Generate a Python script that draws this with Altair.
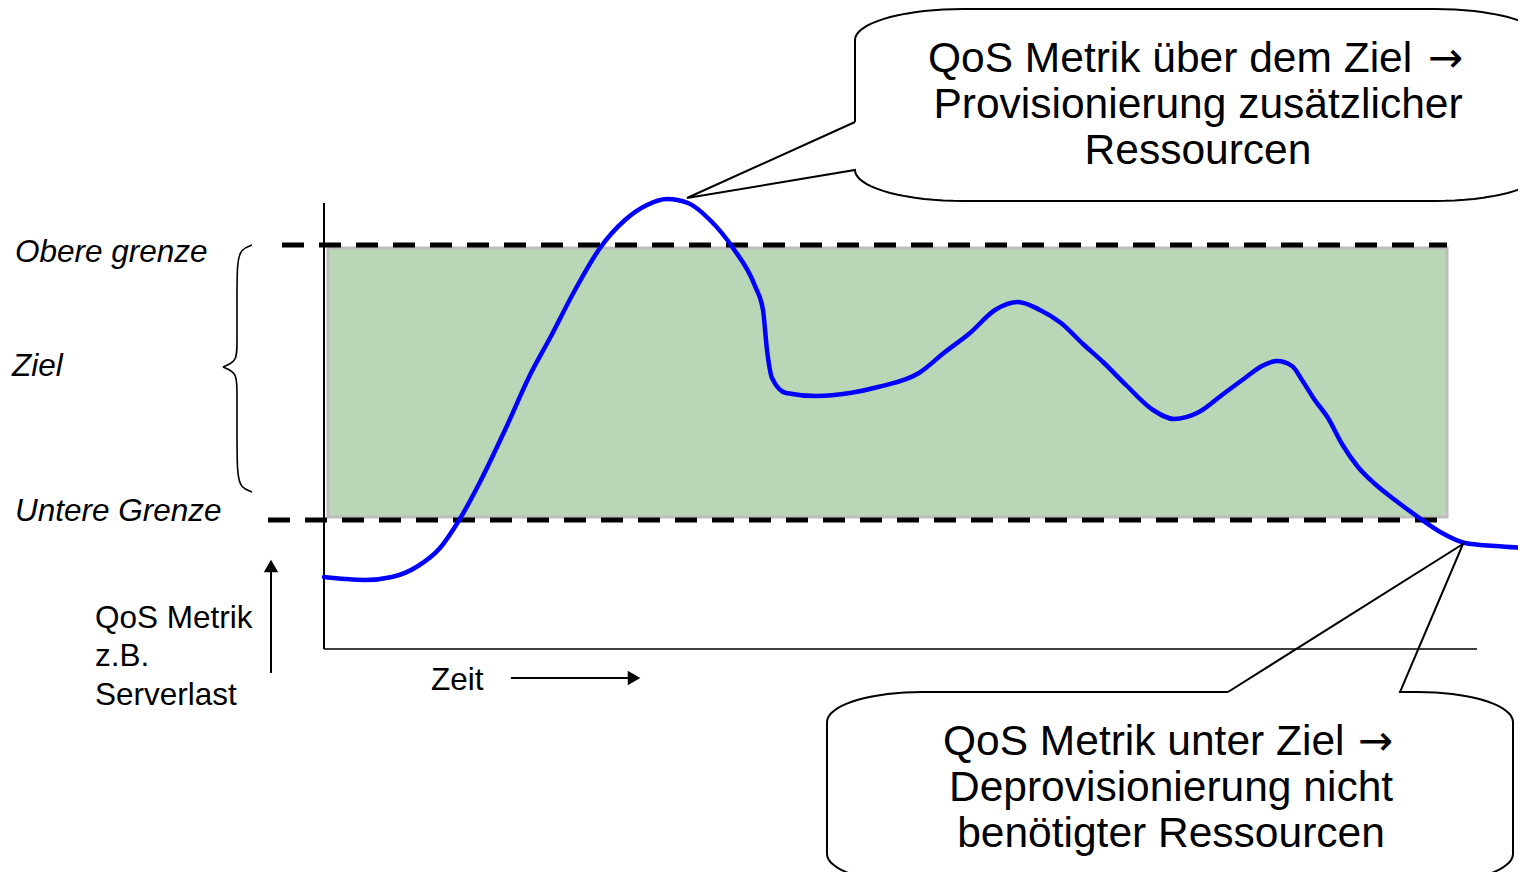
import altair as alt
import numpy as np
import pandas as pd

# ---------------------------------------------------------------
# All values (page pixels of
# the 1526x880 figure); the scales below map them 1:1 onto the page.
# ---------------------------------------------------------------
W, H = 1510, 864
X_DOMAIN = [8, 1518]
Y_DOMAIN = [872, 8]
FONT = "Liberation Sans"
ARROW_FONT = "DejaVu Sans"

# QoS metric curve (blue)
curve_x = [324, 345, 365, 392, 418, 440, 458, 480, 505, 530, 550, 575, 600, 625,
           647, 667, 688, 710, 733, 755, 763, 767, 772, 786, 816, 850, 878, 919,
           945, 970, 995, 1018, 1040, 1061, 1083, 1103, 1126, 1153, 1174, 1199,
           1222, 1245, 1262, 1277, 1292, 1302, 1314, 1328, 1342, 1358, 1375,
           1395, 1418, 1442, 1465, 1495, 1526]
curve_y = [577, 579, 580, 577, 566, 548, 522, 482, 430, 375, 338, 290, 248, 220,
           205, 199, 203, 220, 248, 286, 310, 350, 378, 393, 396, 393, 387, 373,
           352, 333, 310, 302, 310, 323, 344, 362, 385, 410, 419, 412,
           395, 378, 366, 361, 366, 380, 399, 418, 444, 467, 484,
           500, 517, 533, 543, 546, 548]

# target zone (green band)
band_x = [328, 1447]
band_y = [248, 517]

# dashed limits: upper / lower
limit_y = [245, 520]
limit_x_start = [282, 268]
limit_x_end = [1447, 1437]

# hand-drawn axes
yaxis_x = [324]
yaxis_y = [203, 649]
xaxis_y = [649]
xaxis_x = [324, 1477]

# small direction arrows (y: vertical, x: horizontal)
arrow_y_x = [271]
arrow_y_span = [673, 572]
arrow_x_y = [678]
arrow_x_span = [511, 628]

# curly brace (upper half, lower half)
brace_up_x = [252, 241, 237, 237, 237, 237, 223]
brace_up_y = [245, 249, 262, 300, 345, 361, 367]
brace_lo_x = [223, 237, 237, 237, 237, 241, 252]
brace_lo_y = [367, 373, 389, 430, 475, 488, 492]

# callout bubbles: left, right, top, bottom, corner rx, corner ry
top_bubble_box = [855, 1543, 9, 201, 108, 31]
top_bubble_tip = [687, 198]
top_bubble_joins = [122, 170]          # y of the pointer joins on the left edge
bot_bubble_box = [827, 1513, 692, 884, 95, 30]
bot_bubble_tip = [1463, 544]
bot_bubble_joins = [1228, 1400]        # x of the pointer joins on the top edge

# texts
italic_labels = ["Obere grenze", "Ziel", "Untere Grenze"]
italic_x = [15, 12, 15]
italic_y = [262, 376, 521]
plain_labels = ["QoS Metrik", "z.B.", "Serverlast", "Zeit"]
plain_x = [95, 95, 95, 431]
plain_y = [628, 666, 705, 690]

top_head = "QoS Metrik über dem Ziel"
top_head_x, top_head_y = 928, 72
top_arrow_x = 1428
top_lines = ["Provisionierung zusätzlicher", "Ressourcen"]
top_lines_y = [118, 164]
top_lines_x = 1198

bot_head = "QoS Metrik unter Ziel"
bot_head_x, bot_head_y = 943, 755
bot_arrow_x = 1358
bot_lines = ["Deprovisionierung nicht", "benötigter Ressourcen"]
bot_lines_y = [801, 847]
bot_lines_x = 1171

ARROW = "\u2192"


# ---------------------------------------------------------------
def arc(cx, cy, rx, ry, a0, a1, n=18):
    t = np.radians(np.linspace(a0, a1, n))
    return list(zip(cx + rx * np.cos(t), cy + ry * np.sin(t)))


def top_bubble_outline():
    l, r, t, b, rx, ry = top_bubble_box
    pts = [(l, top_bubble_joins[0])]
    pts += arc(l + rx, t + ry, rx, ry, 180, 270)
    pts += arc(r - rx, t + ry, rx, ry, 270, 360)
    pts += arc(r - rx, b - ry, rx, ry, 0, 90)
    pts += arc(l + rx, b - ry, rx, ry, 90, 180)
    pts += [(l, top_bubble_joins[1]), tuple(top_bubble_tip), (l, top_bubble_joins[0])]
    return pts


def bot_bubble_outline():
    l, r, t, b, rx, ry = bot_bubble_box
    pts = [(bot_bubble_joins[0], t), tuple(bot_bubble_tip), (bot_bubble_joins[1], t)]
    pts += arc(r - rx, t + ry, rx, ry, 270, 360)
    pts += arc(r - rx, b - ry, rx, ry, 0, 90)
    pts += arc(l + rx, b - ry, rx, ry, 90, 180)
    pts += arc(l + rx, t + ry, rx, ry, 180, 270)
    pts += [(bot_bubble_joins[0], t)]
    return pts


rows = []
for name, pts in [("top", top_bubble_outline()), ("bottom", bot_bubble_outline())]:
    for i, (px, py) in enumerate(pts):
        rows.append({"shape": name, "i": i, "x": float(px), "y": float(py)})
bubbles_df = pd.DataFrame(rows)

xs = alt.Scale(domain=X_DOMAIN, nice=False, zero=False)
ys = alt.Scale(domain=Y_DOMAIN, nice=False, zero=False)


def X(f):
    return alt.X(f, type="quantitative", scale=xs, axis=None)


def Y(f):
    return alt.Y(f, type="quantitative", scale=ys, axis=None)


band = alt.Chart(pd.DataFrame({"x0": [band_x[0]], "x1": [band_x[1]],
                               "y0": [band_y[0]], "y1": [band_y[1]]})).mark_rect(
    fill="#b9d7b6", stroke="#bdbdbd", strokeWidth=3
).encode(x=X("x0"), x2="x1", y=Y("y0"), y2="y1")

limits = alt.Chart(pd.DataFrame({"x0": limit_x_start, "x1": limit_x_end, "y": limit_y})).mark_rule(
    color="black", strokeWidth=5, strokeDash=[22, 15], strokeCap="butt"
).encode(x=X("x0"), x2="x1", y=Y("y"))

yaxis = alt.Chart(pd.DataFrame({"x": yaxis_x, "y0": [yaxis_y[0]], "y1": [yaxis_y[1]]})).mark_rule(
    color="black", strokeWidth=2
).encode(x=X("x"), y=Y("y0"), y2="y1")

xaxis = alt.Chart(pd.DataFrame({"y": xaxis_y, "x0": [xaxis_x[0]], "x1": [xaxis_x[1]]})).mark_rule(
    color="black", strokeWidth=1.6
).encode(x=X("x0"), x2="x1", y=Y("y"))

arrow_y_line = alt.Chart(pd.DataFrame({"x": arrow_y_x, "y0": [arrow_y_span[0]], "y1": [arrow_y_span[1]]})).mark_rule(
    color="black", strokeWidth=2
).encode(x=X("x"), y=Y("y0"), y2="y1")
arrow_y_head = alt.Chart(pd.DataFrame({"x": arrow_y_x, "y": [arrow_y_span[1] - 6]})).mark_point(
    shape="triangle-up", filled=True, size=210, color="black", opacity=1
).encode(x=X("x"), y=Y("y"))

arrow_x_line = alt.Chart(pd.DataFrame({"y": arrow_x_y, "x0": [arrow_x_span[0]], "x1": [arrow_x_span[1]]})).mark_rule(
    color="black", strokeWidth=2
).encode(x=X("x0"), x2="x1", y=Y("y"))
arrow_x_head = alt.Chart(pd.DataFrame({"y": arrow_x_y, "x": [arrow_x_span[1] + 6]})).mark_point(
    shape="triangle-right", filled=True, size=210, color="black", opacity=1
).encode(x=X("x"), y=Y("y"))

brace_df = pd.DataFrame({
    "part": ["up"] * len(brace_up_x) + ["lo"] * len(brace_lo_x),
    "i": list(range(len(brace_up_x))) + list(range(len(brace_lo_x))),
    "x": brace_up_x + brace_lo_x,
    "y": brace_up_y + brace_lo_y,
})
brace = alt.Chart(brace_df).mark_line(color="black", strokeWidth=1.6, interpolate="basis").encode(
    x=X("x"), y=Y("y"), detail="part:N", order="i:Q")

curve = alt.Chart(pd.DataFrame({"x": curve_x, "y": curve_y})).mark_line(
    color="#0000ff", strokeWidth=4.5, interpolate="monotone", strokeCap="round"
).encode(x=X("x"), y=Y("y"))

bubbles = alt.Chart(bubbles_df).mark_line(color="black", strokeWidth=2, strokeJoin="miter").encode(
    x=X("x"), y=Y("y"), detail="shape:N", order="i:Q")

italic_text = alt.Chart(pd.DataFrame({"t": italic_labels, "x": italic_x, "y": italic_y})).mark_text(
    font=FONT, fontSize=31.5, fontStyle="italic", align="left", baseline="alphabetic", color="black"
).encode(x=X("x"), y=Y("y"), text="t:N")

plain_text = alt.Chart(pd.DataFrame({"t": plain_labels, "x": plain_x, "y": plain_y})).mark_text(
    font=FONT, fontSize=31.5, align="left", baseline="alphabetic", color="black"
).encode(x=X("x"), y=Y("y"), text="t:N")

head_text = alt.Chart(pd.DataFrame({"t": [top_head, bot_head], "x": [top_head_x, bot_head_x],
                                    "y": [top_head_y, bot_head_y]})).mark_text(
    font=FONT, fontSize=42.5, align="left", baseline="alphabetic", color="black"
).encode(x=X("x"), y=Y("y"), text="t:N")

arrow_text = alt.Chart(pd.DataFrame({"t": [ARROW, ARROW], "x": [top_arrow_x, bot_arrow_x],
                                     "y": [top_head_y, bot_head_y]})).mark_text(
    font=ARROW_FONT, fontSize=42, align="left", baseline="alphabetic", color="black"
).encode(x=X("x"), y=Y("y"), text="t:N")

body_text = alt.Chart(pd.DataFrame({
    "t": top_lines + bot_lines,
    "x": [top_lines_x] * len(top_lines) + [bot_lines_x] * len(bot_lines),
    "y": top_lines_y + bot_lines_y,
})).mark_text(
    font=FONT, fontSize=42.5, align="center", baseline="alphabetic", color="black"
).encode(x=X("x"), y=Y("y"), text="t:N")

chart = alt.layer(
    band, limits, yaxis, xaxis, curve, brace,
    arrow_y_line, arrow_y_head, arrow_x_line, arrow_x_head,
    bubbles, italic_text, plain_text, head_text, arrow_text, body_text
).properties(
    width=W, height=H, autosize=alt.AutoSizeParams(type="none"), padding=0
).configure_view(stroke=None)

chart.save("out.html", embed_options={"renderer": "svg", "actions": False})
